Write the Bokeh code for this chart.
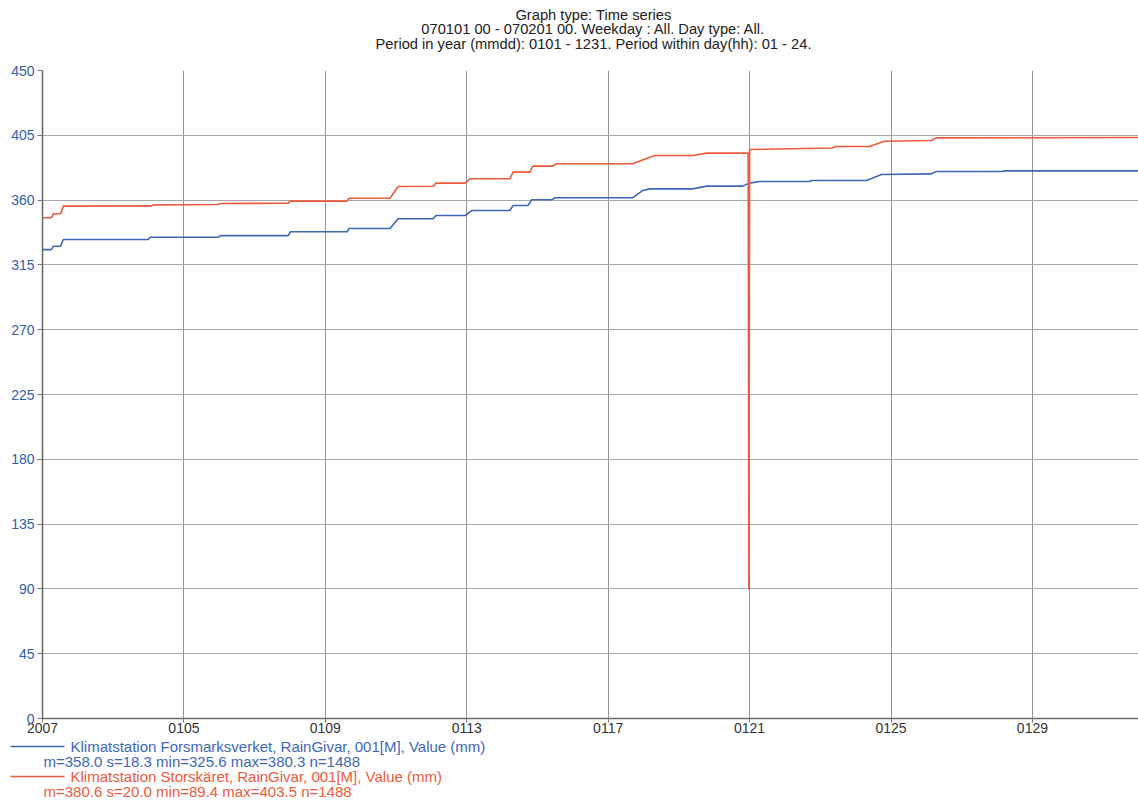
from bokeh.plotting import figure
from bokeh.models import FixedTicker, Range1d
from bokeh.layouts import column
from bokeh.core.properties import value
from bokeh.embed import file_html
from bokeh.resources import INLINE

# ---- data (days since 2007-01-01 00:00, precipitation sum in mm) ----
blue_day = [0, 0.25, 0.31, 0.51, 0.59, 2.99, 3.05, 4.97, 5.03, 6.95, 7.01, 8.62, 8.67,
            9.83, 10.06, 11.05, 11.13, 11.95, 12.15, 13.22, 13.31, 13.73, 13.84, 14.41,
            14.49, 16.69, 16.98, 17.18, 18.39, 18.79, 19.80, 20.0, 20.28, 21.69, 21.75,
            23.31, 23.73, 25.14, 25.28, 27.15, 27.2, 31.0]
blue_mm = [325.6, 325.6, 328.0, 328.0, 332.6, 332.6, 334.2, 334.2, 335.3, 335.3, 338.0,
           338.0, 340.3, 340.3, 347.0, 347.0, 349.3, 349.3, 352.8, 352.8, 356.2, 356.2,
           360.2, 360.2, 361.6, 361.6, 366.7, 367.8, 367.8, 369.7, 369.7, 371.8, 372.9,
           372.9, 373.6, 373.6, 377.8, 378.2, 379.9, 379.9, 380.3, 380.3]

red_day = [0, 0.25, 0.31, 0.51, 0.59, 3.08, 3.14, 4.97, 5.03, 6.95, 7.01, 8.62, 8.67,
           9.83, 10.06, 11.05, 11.13, 11.95, 12.09, 13.22, 13.31, 13.79, 13.87, 14.44,
           14.52, 16.69, 17.18, 17.32, 18.39, 18.79, 19.96, 19.98, 20.0, 22.34, 22.43,
           23.39, 23.81, 25.14, 25.28, 31.0]
red_mm = [347.7, 347.7, 350.5, 350.5, 355.8, 356.0, 356.7, 356.9, 357.6, 357.9, 359.3,
          359.3, 361.3, 361.3, 369.4, 369.6, 371.8, 371.8, 374.8, 374.8, 379.4, 379.4,
          383.6, 383.6, 385.2, 385.2, 389.8, 391.0, 391.0, 392.6, 392.6, 89.4, 395.1,
          396.2, 397.2, 397.2, 400.9, 401.4, 403.2, 403.5]

y_ticks = [0, 45, 90, 135, 180, 225, 270, 315, 360, 405, 450]
x_ticks = [0, 4, 8, 12, 16, 20, 24, 28]
x_tick_labels = ["2007", "0105", "0109", "0113", "0117", "0121", "0125", "0129"]

title_lines = [
    "Graph type: Time series",
    "070101 00 - 070201 00. Weekday : All. Day type: All.",
    "Period in year (mmdd): 0101 - 1231. Period within day(hh): 01 - 24.",
]
series_names = [
    "Klimatstation Forsmarksverket, RainGivar, 001[M], Value (mm)",
    "Klimatstation Storskäret, RainGivar, 001[M], Value (mm)",
]
series_stats = [
    "m=358.0 s=18.3 min=325.6 max=380.3 n=1488",
    "m=380.6 s=20.0 min=89.4 max=403.5 n=1488",
]

BLUE = "#3d68b8"
RED = "#ee5a3a"
FONT = "Liberation Sans"
W = 1138


def blank(height):
    f = figure(width=W, height=height, output_backend="svg", toolbar_location=None,
               x_range=Range1d(0, W), y_range=Range1d(height, 0),
               x_axis_type=None, y_axis_type=None, frame_align=False,
               min_border_left=0, min_border_right=0, min_border_top=0, min_border_bottom=0)
    f.outline_line_color = None
    f.grid.visible = False
    return f


# ---- title block ----
TOP_H = 52
top = blank(TOP_H)
top.text(x=[593, 593, 593], y=[14, 28.5, 43], text=title_lines,
         text_font=value(FONT), text_font_size=value("14.7px"), text_color="#222222",
         text_align="center", text_baseline="middle")

# ---- main chart ----
p = figure(width=W, height=686, output_backend="svg", toolbar_location=None,
           x_range=Range1d(0, 31), y_range=Range1d(0, 450), frame_align=False,
           min_border_left=42, min_border_right=0, min_border_top=18, min_border_bottom=20)
p.outline_line_color = None
p.background_fill_color = "white"
p.border_fill_color = "white"

p.line(blue_day, blue_mm, line_color=BLUE, line_width=1.6)
p.line(red_day, red_mm, line_color=RED, line_width=1.6)

p.xaxis.ticker = FixedTicker(ticks=x_ticks)
p.xaxis.major_label_overrides = {t: s for t, s in zip(x_ticks, x_tick_labels)}
p.yaxis.ticker = FixedTicker(ticks=y_ticks)
for ax in (p.xaxis[0], p.yaxis[0]):
    ax.axis_line_color = "#6e6e6e"
    ax.axis_line_width = 1.6
    ax.major_tick_line_color = "#777777"
    ax.minor_tick_line_color = None
    ax.major_tick_in = 0
    ax.major_label_text_font = FONT
    ax.major_label_text_font_size = "14px"
p.xaxis.major_tick_out = 4
p.xaxis.major_label_standoff = 0
p.xaxis.major_label_text_color = "#333333"
p.yaxis.major_tick_out = 5
p.yaxis.major_label_standoff = 3
p.yaxis.major_label_text_color = "#3060a8"

p.xgrid.grid_line_color = "#959595"
p.ygrid.grid_line_color = "#a8a8a8"
p.xgrid.ticker = FixedTicker(ticks=x_ticks)
p.ygrid.ticker = FixedTicker(ticks=y_ticks)

# ---- legend block ----
LEG_H = 803 - TOP_H - 686
leg = blank(LEG_H)
leg.segment(x0=[10, 10], y0=[8, 38], x1=[64, 64], y1=[8, 38],
            line_color=[BLUE, RED], line_width=1.5)
leg.text(x=[70, 70], y=[8, 38], text=series_names,
         text_font=value(FONT), text_font_size=value("15px"), text_color=[BLUE, RED],
         text_align="left", text_baseline="middle")
leg.text(x=[43, 43], y=[23, 53], text=series_stats,
         text_font=value(FONT), text_font_size=value("15px"), text_color=[BLUE, RED],
         text_align="left", text_baseline="middle")

layout = column(top, p, leg, spacing=0)
open("out.html", "w").write(file_html(layout, INLINE))
